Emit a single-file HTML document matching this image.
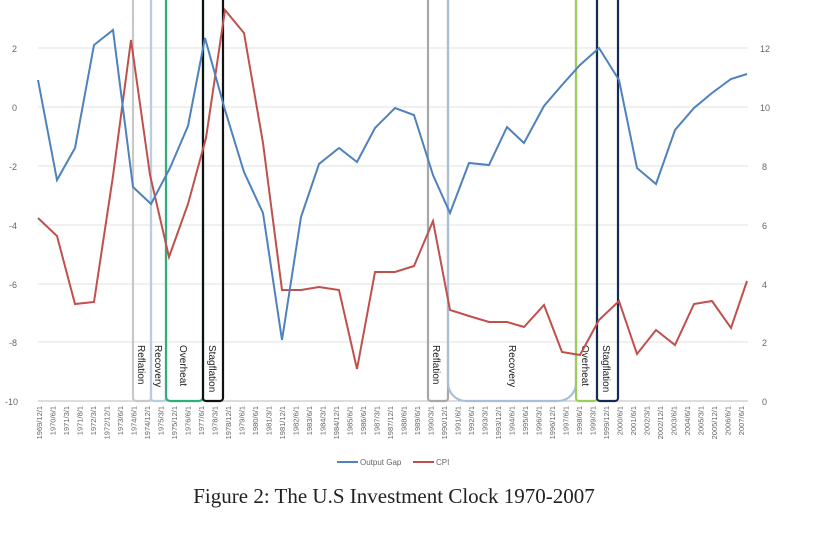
<!DOCTYPE html>
<html><head><meta charset="utf-8"><style>
body{margin:0;background:#fff;width:828px;height:533px;overflow:hidden}
</style></head><body>
<svg width="828" height="533" xmlns="http://www.w3.org/2000/svg" font-family="Liberation Sans, sans-serif">
<g stroke="#e2e2e2" stroke-width="1">
<line x1="38" x2="748" y1="48" y2="48"/><line x1="38" x2="748" y1="107" y2="107"/><line x1="38" x2="748" y1="166" y2="166"/><line x1="38" x2="748" y1="225" y2="225"/><line x1="38" x2="748" y1="284" y2="284"/><line x1="38" x2="748" y1="342" y2="342"/>
</g>
<line x1="38" x2="748" y1="401" y2="401" stroke="#bbb"/>
<g font-size="9" fill="#666">
<text x="12" y="52">2</text><text x="12" y="111">0</text><text x="9" y="170">-2</text><text x="9" y="229">-4</text><text x="9" y="288">-6</text><text x="9" y="346">-8</text><text x="5" y="405">-10</text>
<text x="760" y="52">12</text><text x="760" y="111">10</text><text x="762" y="170">8</text><text x="762" y="229">6</text><text x="762" y="288">4</text><text x="762" y="346">2</text><text x="762" y="405">0</text>
</g>
<g fill="none" stroke-width="2.2">
<rect x="133" y="-10" width="18" height="411" rx="3" stroke="#c8c8c8"/>
<rect x="151" y="-10" width="15" height="411" rx="3" stroke="#b8cde0"/>
<rect x="166" y="-10" width="37" height="411" rx="4" stroke="#2fb07a"/>
<rect x="203" y="-10" width="20" height="411" rx="3" stroke="#111"/>
<rect x="428" y="-10" width="20" height="411" rx="3" stroke="#a8a8a8"/>
<rect x="448" y="-20" width="128" height="421" rx="18" stroke="#a9bfd6"/>
<rect x="576" y="-10" width="21" height="411" rx="3" stroke="#9ccc5a"/>
<rect x="597" y="-10" width="21" height="411" rx="3" stroke="#152a55"/>
</g>
<g font-size="10" fill="#222">
<text transform="translate(138,345) rotate(90)">Reflation</text>
<text transform="translate(155,345) rotate(90)">Recovery</text>
<text transform="translate(180,345) rotate(90)">Overheat</text>
<text transform="translate(209,345) rotate(90)">Stagflation</text>
<text transform="translate(433,345) rotate(90)">Reflation</text>
<text transform="translate(509,345) rotate(90)">Recovery</text>
<text transform="translate(582,345) rotate(90)">Overheat</text>
<text transform="translate(603,345) rotate(90)">Stagflation</text>
</g>
<polyline fill="none" stroke="#c0504d" stroke-width="2" points="38,218 57,236 75,304 94,302 113,176 131,40 150,175 169,257 188,204 206,138 225,10 244,33 263,143 282,290 301,290 319,287 339,290 357,369 375,272 395,272 414,266 433,221 450,310 469,316 489,322 507,322 524,327 544,305 562,352 580,355 599,320 619,301 637,354 656,330 675,345 694,304 712,301 731,328 747,281"/>
<polyline fill="none" stroke="#4f81bd" stroke-width="2" points="38,80 57,180 75,148 94,45 113,30 133,187 151,204 170,168 188,126 205,38 225,110 244,172 263,213 282,340 301,217 319,164 339,148 357,162 375,128 395,108 414,115 433,175 450,213 469,163 489,165 507,127 524,143 544,106 562,85 580,65 599,48 619,80 637,168 656,184 675,130 694,108 712,93 731,79 747,74"/>
<g font-size="7.5" fill="#666" text-anchor="end">
<text transform="translate(42,406) rotate(-90)">1969/12/1</text><text transform="translate(55.5,406) rotate(-90)">1970/6/1</text><text transform="translate(69,406) rotate(-90)">1971/3/1</text><text transform="translate(82.5,406) rotate(-90)">1971/8/1</text><text transform="translate(96,406) rotate(-90)">1972/3/1</text><text transform="translate(109.5,406) rotate(-90)">1972/12/1</text><text transform="translate(123,406) rotate(-90)">1973/6/1</text><text transform="translate(136.5,406) rotate(-90)">1974/6/1</text><text transform="translate(150,406) rotate(-90)">1974/12/1</text><text transform="translate(163.5,406) rotate(-90)">1975/3/1</text><text transform="translate(177,406) rotate(-90)">1975/12/1</text><text transform="translate(190.5,406) rotate(-90)">1976/6/1</text><text transform="translate(204,406) rotate(-90)">1977/6/1</text><text transform="translate(217.5,406) rotate(-90)">1978/3/1</text><text transform="translate(231,406) rotate(-90)">1978/12/1</text><text transform="translate(244.5,406) rotate(-90)">1979/6/1</text><text transform="translate(258,406) rotate(-90)">1980/6/1</text><text transform="translate(271.5,406) rotate(-90)">1981/3/1</text><text transform="translate(285,406) rotate(-90)">1981/12/1</text><text transform="translate(298.5,406) rotate(-90)">1982/6/1</text><text transform="translate(312,406) rotate(-90)">1983/6/1</text><text transform="translate(325.5,406) rotate(-90)">1984/3/1</text><text transform="translate(339,406) rotate(-90)">1984/12/1</text><text transform="translate(352.5,406) rotate(-90)">1985/6/1</text><text transform="translate(366,406) rotate(-90)">1986/6/1</text><text transform="translate(379.5,406) rotate(-90)">1987/3/1</text><text transform="translate(393,406) rotate(-90)">1987/12/1</text><text transform="translate(406.5,406) rotate(-90)">1988/6/1</text><text transform="translate(420,406) rotate(-90)">1989/6/1</text><text transform="translate(433.5,406) rotate(-90)">1990/3/1</text><text transform="translate(447,406) rotate(-90)">1990/12/1</text><text transform="translate(460.5,406) rotate(-90)">1991/6/1</text><text transform="translate(474,406) rotate(-90)">1992/6/1</text><text transform="translate(487.5,406) rotate(-90)">1993/3/1</text><text transform="translate(501,406) rotate(-90)">1993/12/1</text><text transform="translate(514.5,406) rotate(-90)">1994/6/1</text><text transform="translate(528,406) rotate(-90)">1995/6/1</text><text transform="translate(541.5,406) rotate(-90)">1996/3/1</text><text transform="translate(555,406) rotate(-90)">1996/12/1</text><text transform="translate(568.5,406) rotate(-90)">1997/6/1</text><text transform="translate(582,406) rotate(-90)">1998/6/1</text><text transform="translate(595.5,406) rotate(-90)">1999/3/1</text><text transform="translate(609,406) rotate(-90)">1999/12/1</text><text transform="translate(622.5,406) rotate(-90)">2000/6/1</text><text transform="translate(636,406) rotate(-90)">2001/6/1</text><text transform="translate(649.5,406) rotate(-90)">2002/3/1</text><text transform="translate(663,406) rotate(-90)">2002/12/1</text><text transform="translate(676.5,406) rotate(-90)">2003/6/1</text><text transform="translate(690,406) rotate(-90)">2004/6/1</text><text transform="translate(703.5,406) rotate(-90)">2005/3/1</text><text transform="translate(717,406) rotate(-90)">2005/12/1</text><text transform="translate(730.5,406) rotate(-90)">2006/6/1</text><text transform="translate(744,406) rotate(-90)">2007/6/1</text>
</g>
<line x1="337" x2="358" y1="462" y2="462" stroke="#4f81bd" stroke-width="2"/>
<text x="360" y="465" font-size="8" fill="#666">Output Gap</text>
<line x1="413" x2="434" y1="462" y2="462" stroke="#c0504d" stroke-width="2"/>
<text x="436" y="465" font-size="8" fill="#666">CPI</text>
<text x="394" y="503" font-size="21" font-family="Liberation Serif, serif" fill="#222" text-anchor="middle">Figure  2: The U.S Investment Clock 1970-2007</text>
</svg>
</body></html>
